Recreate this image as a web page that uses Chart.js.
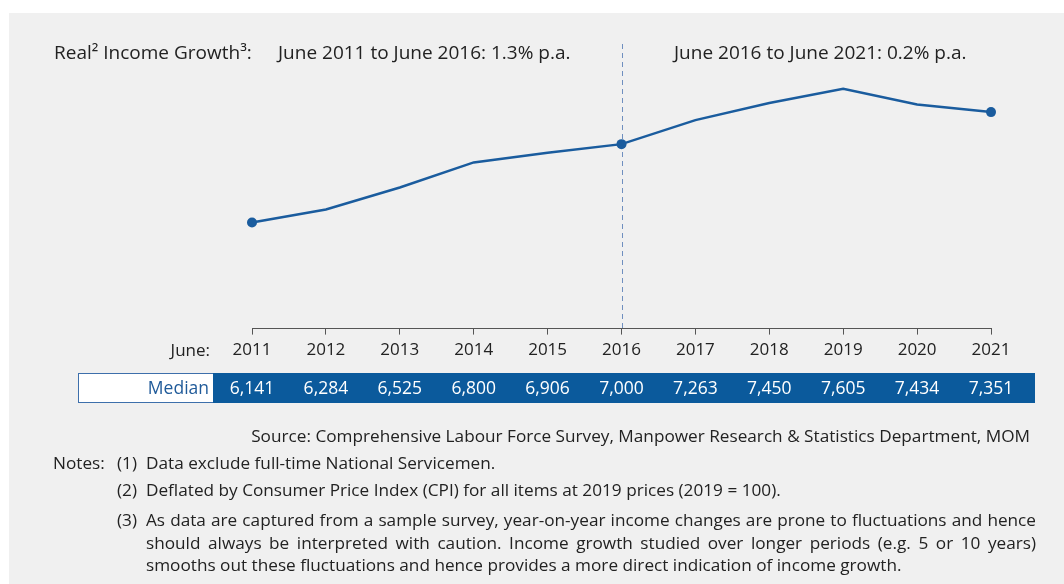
<!DOCTYPE html>
<html>
<head>
<meta charset="utf-8">
<script src="https://cdn.jsdelivr.net/npm/chart.js@4/dist/chart.umd.min.js"></script>
<style>
  body { margin: 0; background: #ffffff; font-family: "Open Sans", "Noto Sans", sans-serif; color: #222; }
  #panel { position: absolute; left: 9px; top: 13px; width: 1055px; height: 571px; background: #f0f0f0; }
  #wrap { position: absolute; left: 0; top: 0; width: 1064px; height: 584px; }
  .t { position: absolute; white-space: nowrap; font-size: 17.2px; line-height: 20px; }
  .hd { font-size: 19px; line-height: 22px; }
  #note3 { position: absolute; left: 146px; top: 509px; width: 890px; font-size: 17.2px; line-height: 22.5px; text-align: justify; white-space: normal; }
</style>
</head>
<body>
<div id="panel"></div>
<div id="wrap"><canvas id="incomeChart" width="1064" height="584"></canvas></div>
<div class="t hd" style="left:54px; top:41px;">Real² Income Growth³:</div>
<div class="t hd" style="left:278px; top:41px;">June 2011 to June 2016: 1.3% p.a.</div>
<div class="t hd" style="left:674px; top:41px;">June 2016 to June 2021: 0.2% p.a.</div>
<div class="t" style="right:34px; top:426px;">Source: Comprehensive Labour Force Survey, Manpower Research &amp; Statistics Department, MOM</div>
<div class="t" style="left:53px; top:453px;">Notes:</div>
<div class="t" style="left:117px; top:453px;">(1)</div>
<div class="t" style="left:146px; top:453px;">Data exclude full-time National Servicemen.</div>
<div class="t" style="left:117px; top:480px;">(2)</div>
<div class="t" style="left:146px; top:480px;">Deflated by Consumer Price Index (CPI) for all items at 2019 prices (2019 = 100).</div>
<div class="t" style="left:117px; top:510px;">(3)</div>
<div id="note3">As data are captured from a sample survey, year-on-year income changes are prone to fluctuations and hence should always be interpreted with caution. Income growth studied over longer periods (e.g. 5 or 10 years) smooths out these fluctuations and hence provides a more direct indication of income growth.</div>
<script>
const years = ['2011', '2012', '2013', '2014', '2015', '2016', '2017', '2018', '2019', '2020', '2021'];
const median = [6141, 6284, 6525, 6800, 6906, 7000, 7263, 7450, 7605, 7434, 7351];
const markedYears = ['2011', '2016', '2021'];
const splitYear = '2016';
const axisPrefix = 'June:';
const rowLabel = 'Median';

const blue = '#0b5a9c';
const lineBlue = '#1a5c9e';
const font = '"Open Sans", "Noto Sans", sans-serif';

function fmt(v) {
  return v.toLocaleString('en-US');
}

const extras = {
  id: 'extras',
  beforeDatasetsDraw(chart) {
    const ctx = chart.ctx;
    const xs = chart.scales.x;
    const x = Math.round(xs.getPixelForValue(years.indexOf(splitYear))) + 0.5;
    ctx.save();
    ctx.strokeStyle = '#6f8fbf';
    ctx.lineWidth = 1;
    ctx.setLineDash([5, 4]);
    ctx.beginPath();
    ctx.moveTo(x, 44);
    ctx.lineTo(x, chart.chartArea.bottom);
    ctx.stroke();
    ctx.restore();
  },
  afterDraw(chart) {
    const ctx = chart.ctx;
    const xs = chart.scales.x;
    ctx.save();
    // "June:" before the year labels
    ctx.font = '17px ' + font;
    ctx.fillStyle = '#222';
    ctx.textAlign = 'right';
    ctx.textBaseline = 'middle';
    ctx.fillText(axisPrefix, 210, xs.bottom - 14);

    // median row
    const top = Math.round(xs.bottom) + 8;
    const h = 30;
    ctx.fillStyle = '#ffffff';
    ctx.fillRect(78, top, 135, h);
    ctx.strokeStyle = '#3d6fab';
    ctx.lineWidth = 1;
    ctx.strokeRect(78.5, top + 0.5, 956, h - 1);
    ctx.fillStyle = blue;
    ctx.fillRect(213, top, 822, h);
    ctx.font = '17.5px ' + font;
    ctx.fillStyle = '#1f5a99';
    ctx.fillText(rowLabel, 209, top + h / 2 + 1);
    ctx.fillStyle = '#ffffff';
    ctx.textAlign = 'center';
    median.forEach((v, i) => {
      ctx.fillText(fmt(v), xs.getPixelForValue(i), top + h / 2 + 1);
    });
    ctx.restore();
  }
};

new Chart(document.getElementById('incomeChart'), {
  type: 'line',
  data: {
    labels: years,
    datasets: [{
      data: median,
      borderColor: lineBlue,
      borderWidth: 2.5,
      tension: 0,
      pointRadius: ctx => markedYears.includes(years[ctx.dataIndex]) ? 5 : 0,
      pointBackgroundColor: lineBlue,
      pointBorderWidth: 0,
      clip: false
    }]
  },
  options: {
    responsive: false,
    animation: false,
    layout: { padding: { left: 252, right: 73, top: 51, bottom: 219 } },
    plugins: { legend: { display: false }, tooltip: { enabled: false } },
    scales: {
      x: {
        offset: false,
        grid: { drawOnChartArea: false, drawTicks: true, tickLength: 6, color: '#555' },
        border: { display: true, color: '#555', width: 1 },
        ticks: { color: '#222', font: { family: font, size: 17 }, padding: 5, maxRotation: 0, autoSkip: false }
      },
      y: {
        display: false,
        min: 4980,
        max: 8020
      }
    }
  },
  plugins: [extras]
});
</script>
</body>
</html>
